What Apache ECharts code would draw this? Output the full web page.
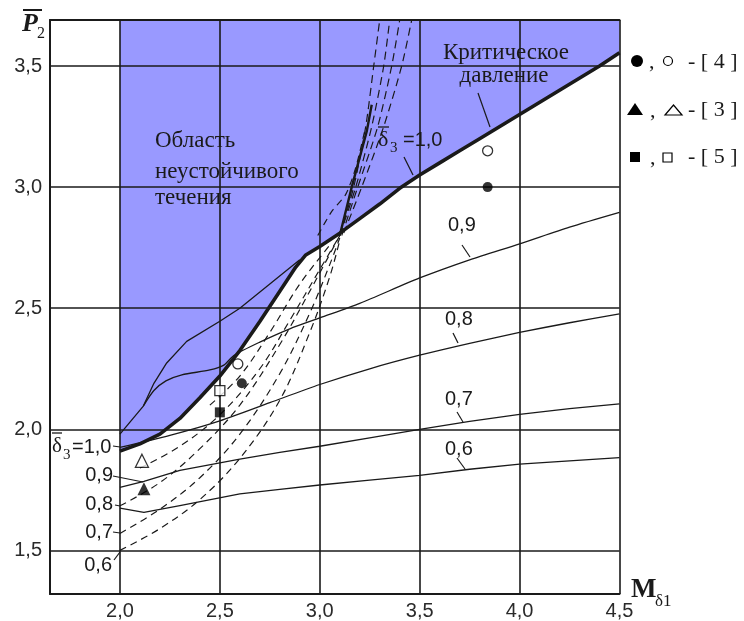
<!DOCTYPE html>
<html><head><meta charset="utf-8">
<script src="https://cdn.jsdelivr.net/npm/echarts@6/dist/echarts.min.js"></script>
<style>html,body{margin:0;padding:0;background:#fff}#c{width:744px;height:621px}</style>
</head><body><div id="c"></div>
<script>
// ---- data ----
const xTicks = [2.0, 2.5, 3.0, 3.5, 4.0, 4.5];
const yTicks = [1.5, 2.0, 2.5, 3.0, 3.5];

const critical = [[2.0,1.91],[2.1,1.94],[2.2,1.98],[2.3,2.045],[2.4,2.13],[2.5,2.22],[2.6,2.325],[2.7,2.445],[2.8,2.57],[2.88,2.67],[2.93,2.72],[3.0,2.755],[3.1,2.81],[3.2,2.87],[3.3,2.93],[3.4,2.995],[3.5,3.05],[3.6,3.10],[3.7,3.15],[3.8,3.20],[4.0,3.30],[4.2,3.40],[4.4,3.50],[4.5,3.555]];

const delta09 = [[2.117,2.096],[2.17,2.16],[2.23,2.20],[2.31,2.225],[2.45,2.245],[2.52,2.265],[2.57,2.305],[2.7,2.36],[2.85,2.415],[3.0,2.46],[3.2,2.52],[3.5,2.625],[3.75,2.70],[4.0,2.766],[4.25,2.835],[4.5,2.896]];
const delta08 = [[2.0,1.925],[2.25,1.975],[2.5,2.035],[2.75,2.11],[3.0,2.185],[3.25,2.25],[3.5,2.306],[3.75,2.355],[4.0,2.40],[4.25,2.44],[4.5,2.477]];
const delta07 = [[2.0,1.76],[2.12,1.785],[2.3,1.83],[2.6,1.877],[2.8,1.905],[3.0,1.93],[3.25,1.965],[3.5,2.0],[3.75,2.033],[4.0,2.062],[4.25,2.085],[4.5,2.105]];
const delta06 = [[2.0,1.675],[2.12,1.657],[2.3,1.685],[2.6,1.733],[2.8,1.752],[3.0,1.77],[3.25,1.79],[3.5,1.81],[3.75,1.835],[4.0,1.856],[4.25,1.87],[4.5,1.883]];
const upperBranch = [[2.0,1.98],[2.117,2.096],[2.17,2.19],[2.234,2.274],[2.334,2.363],[2.5,2.446],[2.6,2.50],[2.75,2.60],[2.9,2.70]];

const dashA = [[2.0,1.50],[2.2,1.59],[2.4,1.71],[2.6,1.88],[2.8,2.12],[2.95,2.40],[3.05,2.63],[3.1,2.78]];
const dashB = [[2.0,1.57],[2.2,1.67],[2.4,1.80],[2.6,1.98],[2.8,2.23],[2.95,2.48],[3.05,2.68],[3.1,2.79]];
const dashC = [[2.0,1.684],[2.2,1.78],[2.4,1.92],[2.6,2.10],[2.8,2.35],[2.95,2.57],[3.1,2.80]];
const dashD = [[2.1,1.84],[2.3,1.93],[2.5,2.06],[2.7,2.25],[2.85,2.45],[3.0,2.66],[3.1,2.80]];
const dashE = [[2.45,2.10],[2.6,2.22],[2.75,2.40],[2.9,2.60],[3.05,2.76]];
const fan0 = [[2.99,2.80],[3.06,2.90],[3.13,2.97],[3.18,3.08],[3.23,3.25]];
const fan1 = [[3.1,2.80],[3.17,3.0],[3.23,3.25],[3.27,3.5],[3.30,3.69]];
const fan2 = [[3.1,2.80],[3.18,3.0],[3.26,3.25],[3.32,3.5],[3.35,3.69]];
const fan3 = [[3.11,2.80],[3.19,3.0],[3.29,3.25],[3.36,3.5],[3.40,3.69]];
const fan4 = [[3.12,2.81],[3.21,3.0],[3.32,3.25],[3.41,3.5],[3.46,3.69]];
const steep = [[3.1,2.80],[3.16,3.0],[3.235,3.23],[3.26,3.34]];

const ref4Filled = [[3.84,3.0],[2.61,2.19]];
const ref4Open = [[3.84,3.15],[2.59,2.27]];
const ref3Filled = [[2.12,1.755]];
const ref3Open = [[2.11,1.87]];
const ref5Filled = [[2.5,2.07]];
const ref5Open = [[2.5,2.16]];

// ---- styling ----
const SANS = '"Liberation Sans", Arial, sans-serif';
const SERIF = '"Liberation Serif", "Times New Roman", serif';
const INK = '#1a1a1a';
const LABEL = '#2a2a2a';
const BLUE = '#9999ff';
const fmt = v => v.toFixed(1).replace('.', ',');

function thin(name, data, z, width, type, smooth) {
  return {type:'line', name, data, z: z, showSymbol:false, symbol:'none', smooth: smooth,
    silent:true, lineStyle:{color:INK, width:width, type:type}};
}
function marks(data, symbol, size, filled) {
  return {type:'scatter', data, symbol, symbolSize:size, z:7, silent:true,
    itemStyle: filled ? {color:'#000'} : {color:'#fff', borderColor:'#000', borderWidth:1.3}};
}

const series = [
  {type:'line', name:'area', data: critical, z:1, showSymbol:false, symbol:'none', silent:true,
    lineStyle:{width:0}, areaStyle:{color:BLUE, opacity:1, origin:'end'}},
  {type:'line', name:'grid', data: [], z:2, silent:true,
    markLine:{silent:true, symbol:['none','none'], animation:false, label:{show:false},
      lineStyle:{color:INK, width:1.6, type:'solid'},
      emphasis:{disabled:true},
      data:[...xTicks.map(v=>({xAxis:v})), ...yTicks.map(v=>({yAxis:v}))]}},
  thin('d09', delta09, 4, 1.3, 'solid', 0.25),
  thin('d08', delta08, 4, 1.3, 'solid', 0.25),
  thin('d07', delta07, 4, 1.3, 'solid', false),
  thin('d06', delta06, 4, 1.3, 'solid', false),
  thin('up', upperBranch, 4, 1.3, 'solid', false),
  thin('dA', dashA, 4, 1.2, [7,5], 0.35),
  thin('dB', dashB, 4, 1.2, [7,5], 0.35),
  thin('dC', dashC, 4, 1.2, [7,5], 0.35),
  thin('dD', dashD, 4, 1.2, [7,5], 0.35),
  thin('dE', dashE, 4, 1.2, [7,5], 0.35),
  thin('f0', fan0, 4, 1.2, [7,5], 0.25),
  thin('f1', fan1, 4, 1.2, [8,5], 0.25),
  thin('f2', fan2, 4, 1.2, [8,5], 0.25),
  thin('f3', fan3, 4, 1.2, [8,5], 0.25),
  thin('f4', fan4, 4, 1.2, [8,5], 0.25),
  thin('steep', steep, 5, 2.4, 'solid', false),
  thin('critical', critical, 6, 3.6, 'solid', false),
  marks(ref4Filled, 'circle', 10, true),
  marks(ref4Open, 'circle', 10, false),
  marks(ref3Filled, 'triangle', 13, true),
  marks(ref3Open, 'triangle', 13, false),
  marks(ref5Filled, 'rect', 10, true),
  marks(ref5Open, 'rect', 10, false)
];

// ---- annotations (pixels) ----
function T(text, x, y, font, align, extra) {
  return Object.assign({type:'text', x, y, z:10, silent:true,
    style:{text, font, fill:INK, align: align || 'left', verticalAlign:'middle'}}, extra || {});
}
function L(x1,y1,x2,y2,w) {
  return {type:'line', z:10, silent:true, shape:{x1,y1,x2,y2}, style:{stroke:INK, lineWidth:w||1.2}};
}
function R(x,y,w,h,fill) {
  return {type:'rect', z:3, silent:true, shape:{x,y,width:w,height:h}, style:{fill}};
}
const F23S = '23px ' + SERIF;
const F22S = '22px ' + SERIF;
const F20 = '20px ' + SANS;
const graphics = [
  R(129,123,169,112,BLUE),
  R(435,58,125,16,BLUE),
  R(512,26,18,74,BLUE),
  R(377,123,69,33,BLUE),
  R(444,306,30,8,'#fff'),
  T('Область',155,141,F23S),
  T('неустойчивого',155,172,F23S),
  T('течения',155,198,F23S),
  T('Критическое',506,53,F23S,'center'),
  T('давление',504,76,F23S,'center'),
  // top delta label
  T('δ',378,140,'22px '+SERIF), L(378,127,389,127,1.3),
  T('3',390,148,'15px '+SERIF), T('=1,0',403,140,F20),
  // left delta label
  T('δ',52,446,'21px '+SERIF), L(52,433,62,433,1.3),
  T('3',63,455,'15px '+SERIF), T('=1,0',72,447.5,F20),
  T('0,9',113,475.5,F20,'right'), T('0,8',113,504.5,F20,'right'),
  T('0,7',113,532.5,F20,'right'), T('0,6',112,565.5,F20,'right'),
  // right labels
  T('0,9',448,225.5,F20), T('0,8',445,319.5,F20), T('0,7',445,399,F20), T('0,6',445,449.5,F20),
  // leaders
  L(404,157,413,175), L(478,93,490,127),
  L(462,245,470,257), L(453,333,458,343), L(457,412,463,422), L(457,458,465,469),
  L(113,446,120,447), L(113,476,143,482), L(115,505,120,506), L(113,532,120,533), L(114,560,120,552),
  // axis titles
  T('P',22,24,'italic bold 26px '+SERIF), L(23,10,42,10,2),
  T('2',37,34,'16px '+SERIF),
  T('M',631,590,'bold 27px '+SERIF), T('δ1',655,602,'17px '+SERIF),
  // legend
  {type:'circle', z:10, shape:{cx:637,cy:61,r:6}, style:{fill:'#000'}},
  T(',',649,62,F22S),
  {type:'circle', z:10, shape:{cx:668,cy:61,r:4.5}, style:{fill:'#fff',stroke:'#000',lineWidth:1.2}},
  T('- [ 4 ]',688,62,F22S),
  {type:'polygon', z:10, shape:{points:[[627,115],[643,115],[635,103]]}, style:{fill:'#000'}},
  T(',',650,111,F22S),
  {type:'polygon', z:10, shape:{points:[[665,115],[682,115],[673.5,105]]}, style:{fill:'#fff',stroke:'#000',lineWidth:1.2}},
  T('- [ 3 ]',688,110,F22S),
  {type:'rect', z:10, shape:{x:630,y:152,width:10,height:10}, style:{fill:'#000'}},
  T(',',650,158,F22S),
  {type:'rect', z:10, shape:{x:663,y:153,width:9,height:9}, style:{fill:'#fff',stroke:'#000',lineWidth:1.2}},
  T('- [ 5 ]',688,157,F22S)
];

const chart = echarts.init(document.getElementById('c'), null, {renderer:'canvas'});
chart.setOption({
  animation:false,
  backgroundColor:'#fff',
  grid:{left:50, right:124.5, top:20, bottom:26, containLabel:false},
  xAxis:[
    {type:'value', min:1.65, max:4.5, z:10,
      axisLine:{show:true, onZero:false, lineStyle:{color:INK, width:2}},
      axisTick:{show:false}, splitLine:{show:false},
      axisLabel:{customValues:xTicks, formatter:fmt, fontFamily:SANS, fontSize:20, color:LABEL, margin:7, showMaxLabel:true, showMinLabel:true}},
    {type:'value', position:'top', min:1.65, max:4.5, z:10,
      axisLine:{show:true, onZero:false, lineStyle:{color:INK, width:2}},
      axisTick:{show:false}, splitLine:{show:false}, axisLabel:{show:false}}
  ],
  yAxis:{type:'value', min:1.32, max:3.69, z:10,
    axisLine:{show:true, onZero:false, lineStyle:{color:INK, width:2}},
    axisTick:{show:false}, splitLine:{show:false},
    axisLabel:{customValues:yTicks, formatter:fmt, fontFamily:SANS, fontSize:20, color:LABEL, margin:8, showMaxLabel:true, showMinLabel:true}},
  series: series,
  graphic: graphics
});
</script>
</body></html>
